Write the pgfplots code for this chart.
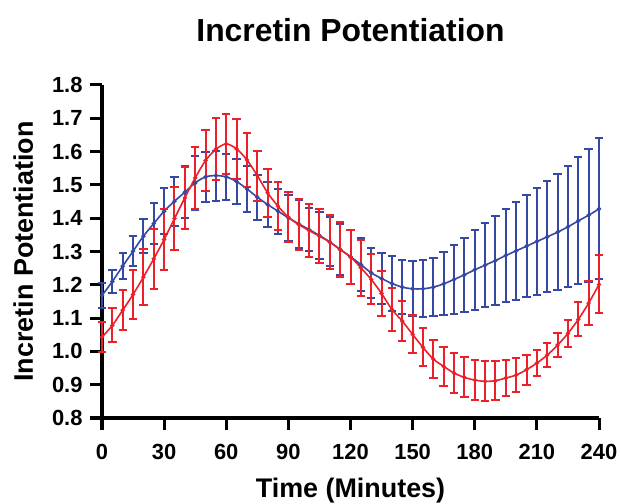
\documentclass[border=0pt]{standalone}
\usepackage{fontspec}
\setmainfont{Liberation Sans}
\usepackage{pgfplots}
\usepackage{pgfplotstable}
\pgfplotsset{compat=1.18}

\definecolor{prismblue}{RGB}{52,72,164}
\definecolor{prismred}{RGB}{236,32,40}

% time, mean, error
\pgfplotstableread{
t y e
0 1.168 0.037
5 1.210 0.035
10 1.256 0.039
15 1.301 0.045
20 1.346 0.051
25 1.384 0.061
30 1.421 0.069
35 1.451 0.074
40 1.478 0.078
45 1.506 0.080
50 1.524 0.076
55 1.528 0.075
60 1.524 0.070
65 1.510 0.068
70 1.488 0.069
75 1.463 0.068
80 1.441 0.067
85 1.421 0.067
90 1.401 0.070
95 1.383 0.071
100 1.366 0.066
105 1.348 0.070
110 1.329 0.074
115 1.306 0.078
120 1.284 0.082
125 1.261 0.080
130 1.236 0.076
135 1.219 0.076
140 1.204 0.082
145 1.193 0.081
150 1.188 0.083
155 1.188 0.085
160 1.193 0.088
165 1.203 0.095
170 1.216 0.103
175 1.230 0.111
180 1.245 0.120
185 1.259 0.127
190 1.273 0.135
195 1.288 0.141
200 1.302 0.148
205 1.316 0.153
210 1.330 0.161
215 1.344 0.167
220 1.358 0.175
225 1.374 0.182
230 1.392 0.191
235 1.409 0.200
240 1.428 0.212
}\blueseries

\pgfplotstableread{
t y e
0 1.043 0.044
5 1.078 0.051
10 1.124 0.061
15 1.171 0.073
20 1.223 0.084
25 1.278 0.090
30 1.336 0.093
35 1.399 0.094
40 1.461 0.094
45 1.521 0.092
50 1.573 0.091
55 1.607 0.093
60 1.623 0.091
65 1.608 0.091
70 1.575 0.080
75 1.528 0.075
80 1.476 0.073
85 1.436 0.072
90 1.403 0.075
95 1.381 0.077
100 1.363 0.079
105 1.346 0.081
110 1.328 0.082
115 1.306 0.082
120 1.284 0.081
125 1.251 0.085
130 1.216 0.075
135 1.174 0.067
140 1.126 0.064
145 1.091 0.059
150 1.051 0.057
155 1.012 0.057
160 0.977 0.057
165 0.955 0.058
170 0.935 0.061
175 0.922 0.060
180 0.914 0.061
185 0.910 0.060
190 0.912 0.059
195 0.920 0.055
200 0.929 0.050
205 0.945 0.045
210 0.965 0.040
215 0.989 0.035
220 1.019 0.035
225 1.054 0.040
230 1.096 0.051
235 1.145 0.066
240 1.201 0.087
}\redseries

\begin{document}
\begin{tikzpicture}
\path[use as bounding box] (0,0) rectangle (621bp,504bp);
\begin{axis}[
at={(102bp,86bp)},
width=497bp,
height=333bp,
scale only axis,
clip=false,
xmin=0, xmax=240,
ymin=0.8, ymax=1.8,
xtick={0,30,...,240},
ytick={0.8,0.9,...,1.8},
axis x line=bottom,
axis y line=left,
axis line style={-, line width=3bp, black},
tick align=outside,
major tick length=12bp,
tick style={line width=3bp, black},
/pgf/number format/assume math mode=true,
ticklabel style={font=\bfseries\fontsize{22}{26}\selectfont},
xticklabel style={yshift=-11bp},
yticklabel style={xshift=-4bp, /pgf/number format/.cd, fixed, fixed zerofill, precision=1},
title={Incretin Potentiation},
title style={font=\bfseries\fontsize{32}{38}\selectfont, at={(0.5,1)}, anchor=base, yshift=38bp},
xlabel={Time (Minutes)},
xlabel style={font=\bfseries\fontsize{27}{32}\selectfont, at={(0.5,0)}, anchor=base, yshift=-79bp},
ylabel={Incretin Potentiation},
ylabel style={font=\bfseries\fontsize{27}{32}\selectfont, at={(0,0.5)}, anchor=base, yshift=69bp},
]
\addplot[smooth, color=prismblue, line width=1.6bp, mark=*, mark size=1.3bp,
  error bars/.cd, y dir=both, y explicit,
  error bar style={line width=2bp, prismblue},
  error mark options={rotate=90, mark size=4.2bp, line width=2bp, prismblue}]
  table[x=t, y=y, y error=e] {\blueseries};
\addplot[smooth, color=prismred, line width=1.6bp, mark=*, mark size=1.3bp,
  error bars/.cd, y dir=both, y explicit,
  error bar style={line width=2bp, prismred},
  error mark options={rotate=90, mark size=4.2bp, line width=2bp, prismred}]
  table[x=t, y=y, y error=e] {\redseries};
\end{axis}
\end{tikzpicture}
\end{document}
